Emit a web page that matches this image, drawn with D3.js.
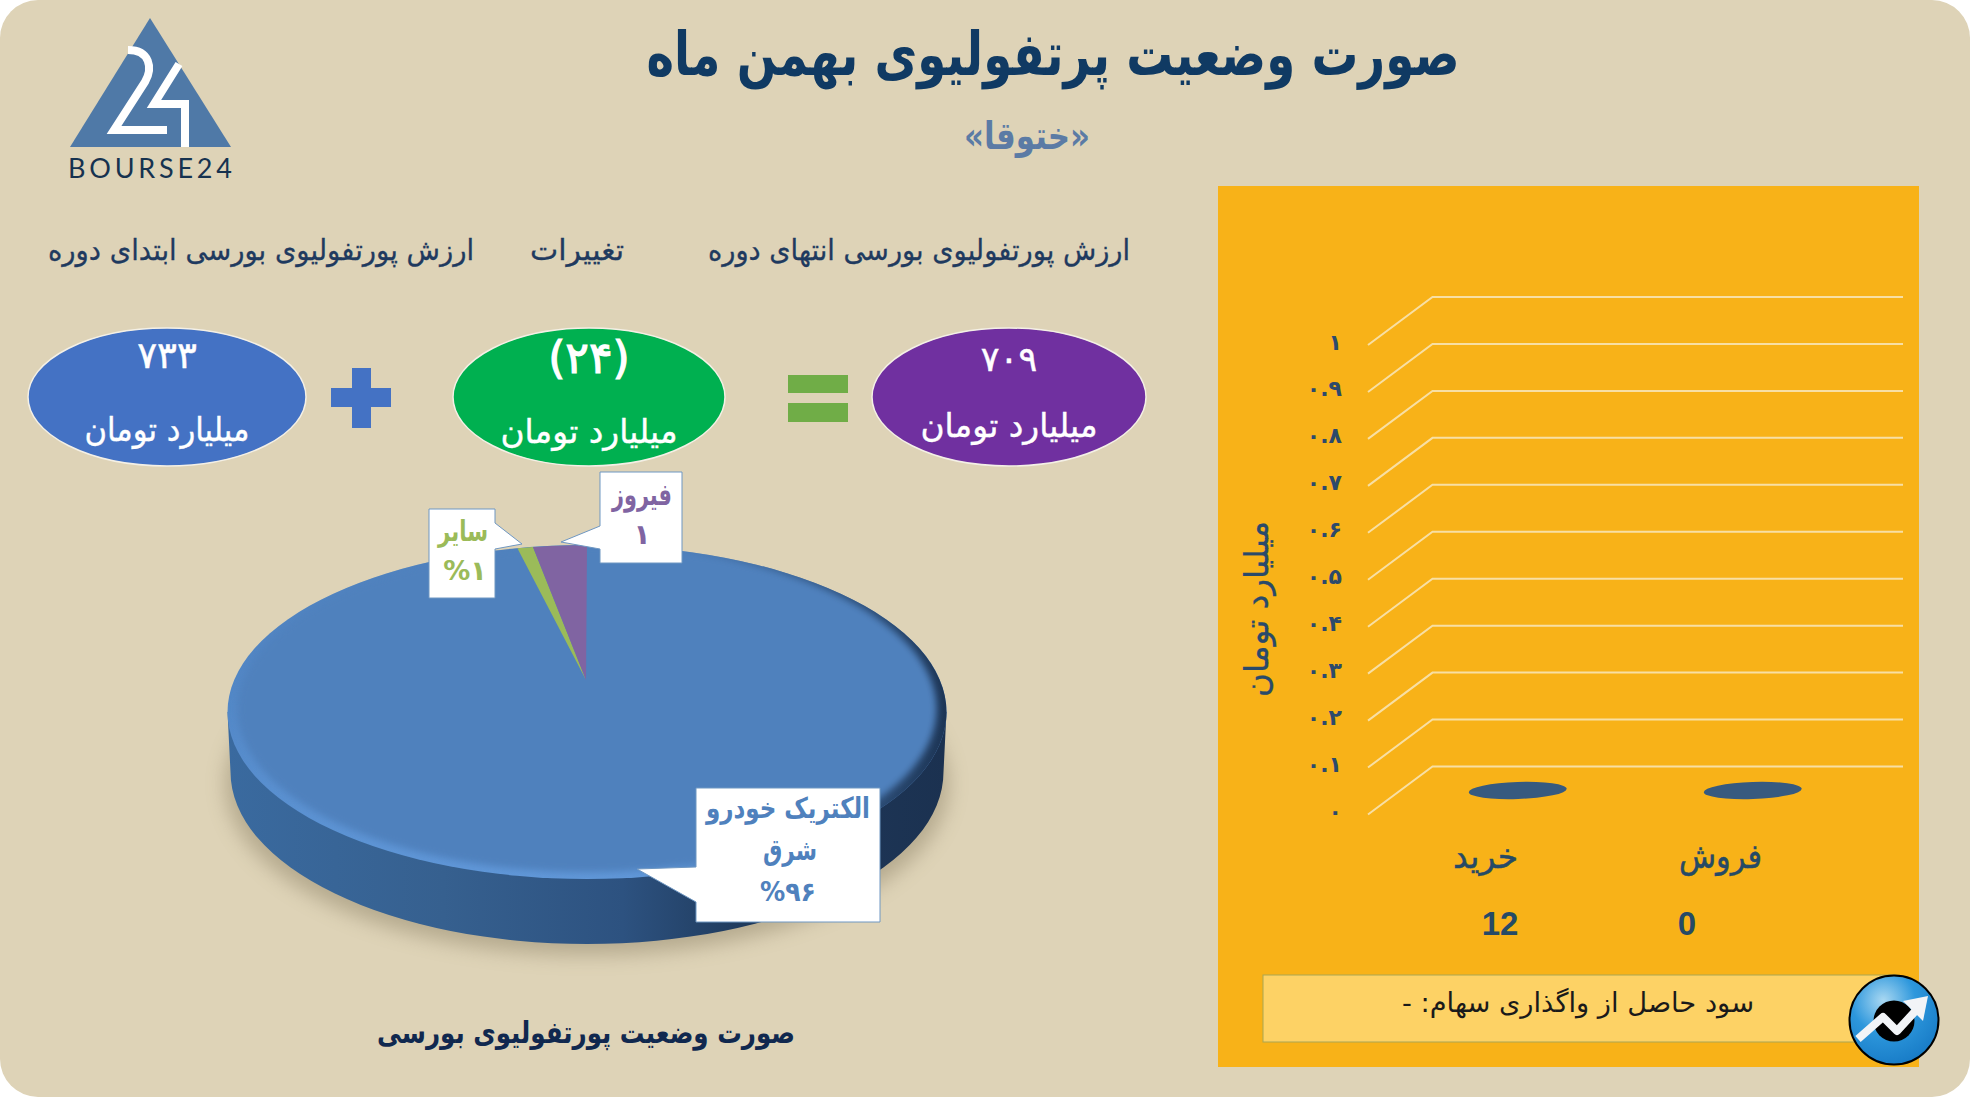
<!DOCTYPE html>
<html lang="fa">
<head>
<meta charset="utf-8">
<title>صورت وضعیت پرتفولیوی بهمن ماه</title>
<script src="https://cdnjs.cloudflare.com/ajax/libs/d3/7.8.5/d3.min.js"></script>
<style>
    html, body { margin: 0; padding: 0; background: #fff; }
    svg { display: block; }
    text { font-family: "DejaVu Sans", sans-serif; }
</style>
</head>
<body>
<div id="vis"></div>
<script>
// pie
var pieNames = ["الکتریک خودرو شرق", "سایر", "فیروز"];
var pieValues = [96.9, 0.7, 2.4];
var pieColors = ["#4f81bd", "#9bbb59", "#8064a2"];

// bars
var barCategories = ["خرید", "فروش"];
var barValues = [0, 0];
var barLabels = ["12", "0"];
var yTicks = [0, 0.1, 0.2, 0.3, 0.4, 0.5, 0.6, 0.7, 0.8, 0.9, 1];

// top row
var ovalValues = ["۷۳۳", "(۲۴)", "۷۰۹"];
var ovalColors = ["#4472c4", "#00b050", "#7030a0"];
var ovalHeaders = ["ارزش پورتفولیوی بورسی ابتدای دوره", "تغییرات", "ارزش پورتفولیوی بورسی انتهای دوره"];

var width = 1970;
var height = 1097;
var font = '"DejaVu Sans", sans-serif';

var svg = d3.select("#vis").append("svg").attr("width", width).attr("height", height);
var defs = svg.append("defs");

function persian(s) {
    return String(s).replace(/\d/g, function (d) { return "۰۱۲۳۴۵۶۷۸۹"[d]; });
}

function gradient(id, x1, y1, x2, y2, stops) {
    var g = defs.append("linearGradient").attr("id", id)
        .attr("x1", x1).attr("y1", y1).attr("x2", x2).attr("y2", y2);
    stops.forEach(function (s) {
        var stop = g.append("stop").attr("offset", s[0]).attr("stop-color", s[1]);
        if (s.length > 2) stop.attr("stop-opacity", s[2]);
    });
}

// puts a text on the page, squeezed to the given width when there is one
function label(x, y, str, size, color, opts) {
    opts = opts || {};
    var t = svg.append("text")
        .attr("x", x).attr("y", y)
        .attr("text-anchor", opts.anchor || "middle")
        .attr("dominant-baseline", "central")
        .attr("font-size", size)
        .attr("font-weight", opts.weight || "normal")
        .attr("fill", color)
        .text(str);
    if (opts.rtl) t.attr("direction", "rtl");
    if (opts.fit) t.attr("textLength", opts.fit).attr("lengthAdjust", "spacingAndGlyphs");
    if (opts.thick) t.attr("stroke", color).attr("stroke-width", opts.thick);
    if (opts.rotate) t.attr("transform", "rotate(" + opts.rotate + " " + x + " " + y + ")");
    return t;
}

function drawBackground() {
    svg.append("rect").attr("width", width).attr("height", height)
        .attr("rx", 38).attr("fill", "#ded3b7");
    svg.append("rect").attr("x", 1218).attr("y", 186).attr("width", 701).attr("height", 881)
        .attr("fill", "#f8b218");
}

function drawLogo() {
    var g = svg.append("g");
    g.append("path").attr("d", "M150,18 L231,147 L70,147 Z").attr("fill", "#4f79a7");
    g.append("path")
        .attr("d", "M128,50 C150,50 153,68 145,82 L114,130 L167,130")
        .attr("fill", "none").attr("stroke", "#fff").attr("stroke-width", 8);
    g.append("path")
        .attr("d", "M179,64 L154,104 L185,104 L185,147")
        .attr("fill", "none").attr("stroke", "#fff").attr("stroke-width", 8);
    svg.append("text").attr("x", 68).attr("y", 178)
        .attr("font-size", 27).attr("fill", "#16324f")
        .attr("textLength", 164).attr("lengthAdjust", "spacing")
        .style("font-family", "Lato, sans-serif")
        .text("BOURSE24");
}

function drawTitles() {
    label(1053, 54, "صورت وضعیت پرتفولیوی بهمن ماه", 60, "#103a63", { weight: "bold", fit: 813 });
    label(1027, 136, "«ختوقا»", 38, "#5b7ba5", { weight: "bold", rtl: true, fit: 126 });
    label(586, 1032, "صورت وضعیت پورتفولیوی بورسی", 30, "#10284f", { weight: "bold", fit: 418 });
}

function drawOvals() {
    var cx = [167, 589, 1009];
    var rx = [139, 136, 137];
    var headerX = [261, 577, 919];
    var headerFit = [426, 94, 422];
    var valueY = [355, 357, 359];
    var valueSize = [37, 44, 35];
    var unitY = [429, 431, 425];
    var unitFit = [165, 177, 177];
    ovalValues.forEach(function (v, i) {
        svg.append("ellipse").attr("cx", cx[i]).attr("cy", 397).attr("rx", rx[i]).attr("ry", 69)
            .attr("fill", ovalColors[i]).attr("stroke", "#f4f0e6").attr("stroke-width", 1.5);
        label(cx[i], valueY[i], v, valueSize[i], "#fff", { thick: i == 1 ? 1.2 : 0.5 });
        label(cx[i], unitY[i], "میلیارد تومان", 33, "#fff", { fit: unitFit[i], thick: 0.4 });
        label(headerX[i], 250, ovalHeaders[i], 29, "#1f3a5f", { fit: headerFit[i], thick: 0.3 });
    });
    // plus and equals
    svg.append("rect").attr("x", 331).attr("y", 388).attr("width", 60).attr("height", 19).attr("fill", "#4472c4");
    svg.append("rect").attr("x", 352).attr("y", 368).attr("width", 19).attr("height", 60).attr("fill", "#4472c4");
    svg.append("rect").attr("x", 788).attr("y", 375).attr("width", 60).attr("height", 18).attr("fill", "#70ad47");
    svg.append("rect").attr("x", 788).attr("y", 403).attr("width", 60).attr("height", 19).attr("fill", "#70ad47");
}

function drawPie() {
    var cx = 587, cy = 712, rx = 359.5, ry = 167;
    var apex = [586, 680];
    var depth = 60;

    var blur = defs.append("filter").attr("id", "shadow")
        .attr("x", "-20%").attr("y", "-20%").attr("width", "140%").attr("height", "140%");
    blur.append("feGaussianBlur").attr("stdDeviation", 10);
    var soft = defs.append("filter").attr("id", "soft")
        .attr("x", "-5%").attr("y", "-5%").attr("width", "110%").attr("height", "110%");
    soft.append("feGaussianBlur").attr("stdDeviation", 3.5);

    gradient("wall", 0, 0, 1, 0, [[0, "#3a6a9f"], [0.3, "#36608f"], [0.55, "#2d5280"], [0.72, "#1f3a5c"], [1, "#1b3150"]]);
    gradient("rim", 0, 0, 0, 1, [[0, "#4f81bd"], [0.45, "#5287c6"], [1, "#6097d8"]]);
    gradient("rimDark", 0, 0, 1, 0, [[0, "#223e62", 0], [0.62, "#223e62", 0], [0.85, "#223e62", 0.7], [1, "#1d3555", 1]]);

    svg.append("ellipse").attr("cx", cx).attr("cy", cy + depth + 12).attr("rx", rx + 2).attr("ry", ry + 4)
        .attr("fill", "#6d6247").attr("opacity", 0.36).attr("filter", "url(#shadow)");

    // side wall
    svg.append("path")
        .attr("d", "M" + (cx - rx) + "," + cy +
            " L" + (cx - rx + 3) + "," + (cy + depth) +
            " A" + (rx - 3) + "," + (ry + 5) + " 0 0 0 " + (cx + rx - 3) + "," + (cy + depth) +
            " L" + (cx + rx) + "," + cy + " Z")
        .attr("fill", "url(#wall)");

    // bevelled top face
    svg.append("ellipse").attr("cx", cx).attr("cy", cy).attr("rx", rx).attr("ry", ry).attr("fill", "url(#rim)");
    svg.append("ellipse").attr("cx", cx).attr("cy", cy).attr("rx", rx).attr("ry", ry).attr("fill", "url(#rimDark)");
    defs.append("clipPath").attr("id", "face").append("ellipse")
        .attr("cx", cx).attr("cy", cy).attr("rx", rx).attr("ry", ry);
    var top = svg.append("g").attr("clip-path", "url(#face)");
    top.append("ellipse").attr("cx", cx).attr("cy", cy - 3).attr("rx", rx - 10).attr("ry", ry - 4)
        .attr("fill", pieColors[0]).attr("filter", "url(#soft)");

    // small slices, the apex sits where the perspective puts the pie's centre
    var arcs = d3.pie().sort(null)(pieValues);
    arcs.forEach(function (a, i) {
        if (i == 0) return;
        var x0 = cx + rx * Math.sin(a.startAngle), y0 = cy - ry * Math.cos(a.startAngle);
        var x1 = cx + rx * Math.sin(a.endAngle), y1 = cy - ry * Math.cos(a.endAngle);
        top.append("path")
            .attr("d", "M" + apex[0] + "," + apex[1] + " L" + x0 + "," + y0 +
                " A" + rx + "," + ry + " 0 0 1 " + x1 + "," + y1 + " Z")
            .attr("fill", pieColors[i]);
    });
}

function callout(box, tip, base, side) {
    var x0 = box[0], y0 = box[1], x1 = box[2], y1 = box[3];
    var d;
    if (side == "left") {
        d = "M" + x0 + "," + y0 + " L" + x1 + "," + y0 + " L" + x1 + "," + y1 + " L" + x0 + "," + y1 +
            " L" + x0 + "," + base[1] + " L" + tip[0] + "," + tip[1] + " L" + x0 + "," + base[0] + " Z";
    } else {
        d = "M" + x0 + "," + y0 + " L" + x1 + "," + y0 + " L" + x1 + "," + base[0] + " L" + tip[0] + "," + tip[1] +
            " L" + x1 + "," + base[1] + " L" + x1 + "," + y1 + " L" + x0 + "," + y1 + " Z";
    }
    svg.append("path").attr("d", d).attr("fill", "#fff").attr("stroke", "#6f97c2").attr("stroke-width", 1);
}

function drawCallouts() {
    callout([600, 472, 682, 563], [561, 542], [526, 549], "left");
    label(642, 494, pieNames[2], 30, pieColors[2], { weight: "bold", fit: 60 });
    label(642, 534, "۱", 28, pieColors[2], { weight: "bold" });

    callout([429, 509, 495, 598], [522, 544], [523, 549], "right");
    label(463, 531, pieNames[1], 29, pieColors[1], { weight: "bold", fit: 50 });
    label(465, 570, "%۱", 27, pieColors[1], { weight: "bold" });

    callout([696, 788, 880, 922], [637, 869], [867, 902], "left");
    label(788, 808, "الکتریک خودرو", 29, pieColors[0], { weight: "bold", fit: 164 });
    label(790, 850, "شرق", 29, pieColors[0], { weight: "bold", fit: 54 });
    label(788, 891, "%۹۶", 27, pieColors[0], { weight: "bold", fit: 56 });
}

function drawBars() {
    var depthX = 64.5, depthY = -48;
    var y = d3.scaleLinear().domain([0, 1]).range([814.5, 345]);
    var x = d3.scaleBand().domain(barCategories).range([1368, 1838]);
    var catFit = [65, 83];

    var grid = svg.append("g").attr("fill", "none").attr("stroke", "#f8dfa4").attr("stroke-width", 2);
    grid.selectAll("path").data(yTicks).join("path")
        .attr("d", function (d) {
            return "M1368," + y(d) + " L" + (1368 + depthX) + "," + (y(d) + depthY) + " L1903," + (y(d) + depthY);
        });

    var axis = d3.axisLeft(y).tickValues(yTicks).tickSize(0).tickPadding(0)
        .tickFormat(function (d) { return persian(d); });
    var axisG = svg.append("g").attr("transform", "translate(1342,-3)").call(axis);
    axisG.select(".domain").remove();
    axisG.selectAll("text")
        .style("font-family", font).style("font-size", "22px").style("font-weight", "bold")
        .attr("fill", "#2d4a6b");

    // the bars are all but empty, only their flat caps show
    barCategories.forEach(function (c, i) {
        var bx = x(c) + x.bandwidth() / 2 + depthX / 2;
        var by = y(barValues[i]) + depthY / 2;
        svg.append("ellipse").attr("cx", bx).attr("cy", by).attr("rx", 49).attr("ry", 8.5)
            .attr("transform", "rotate(-2 " + bx + " " + by + ")")
            .attr("fill", "#375a7f");
        label(x(c) + x.bandwidth() / 2, 856, c, 34, "#264a66", { fit: catFit[i], thick: 0.5 });
    });
    label(1500, 923, barLabels[0], 33, "#264a66", { weight: "bold" }).style("font-family", "Liberation Sans");
    label(1687, 923, barLabels[1], 33, "#264a66", { weight: "bold" }).style("font-family", "Liberation Sans");

    label(1256, 609, "میلیارد تومان", 33, "#2a4a6a", { rotate: -90, fit: 176, thick: 0.3 });
}

function drawInfoBox() {
    svg.append("rect").attr("x", 1263).attr("y", 975).attr("width", 633).attr("height", 67)
        .attr("fill", "#fdd265").attr("stroke", "#a9a552").attr("stroke-width", 1);
    label(1578, 1002, "سود حاصل از واگذاری سهام: -", 27, "#1a1a1a", { rtl: true, fit: 352 });
}

function drawBadge() {
    var rg = defs.append("radialGradient").attr("id", "badge")
        .attr("cx", 0.38).attr("cy", 0.28).attr("r", 0.8);
    rg.append("stop").attr("offset", 0).attr("stop-color", "#a9d8f2");
    rg.append("stop").attr("offset", 0.45).attr("stop-color", "#2d97dc");
    rg.append("stop").attr("offset", 1).attr("stop-color", "#1578c4");
    var g = svg.append("g").attr("transform", "translate(1894,1020)");
    g.append("circle").attr("r", 44.5).attr("fill", "url(#badge)").attr("stroke", "#000").attr("stroke-width", 2);
    g.append("circle").attr("cy", 1).attr("r", 20.5).attr("fill", "#000");
    g.append("path").attr("d", "M-36,19 L-11,-3 L3,11 L26,-14")
        .attr("fill", "none").attr("stroke", "#f2f4f7").attr("stroke-width", 8).attr("stroke-linejoin", "round");
    g.append("path").attr("d", "M34,-24 L29,1 L9,-19 Z").attr("fill", "#f2f4f7");
}

drawBackground();
drawLogo();
drawTitles();
drawOvals();
drawPie();
drawCallouts();
drawBars();
drawInfoBox();
drawBadge();
</script>
</body>
</html>
